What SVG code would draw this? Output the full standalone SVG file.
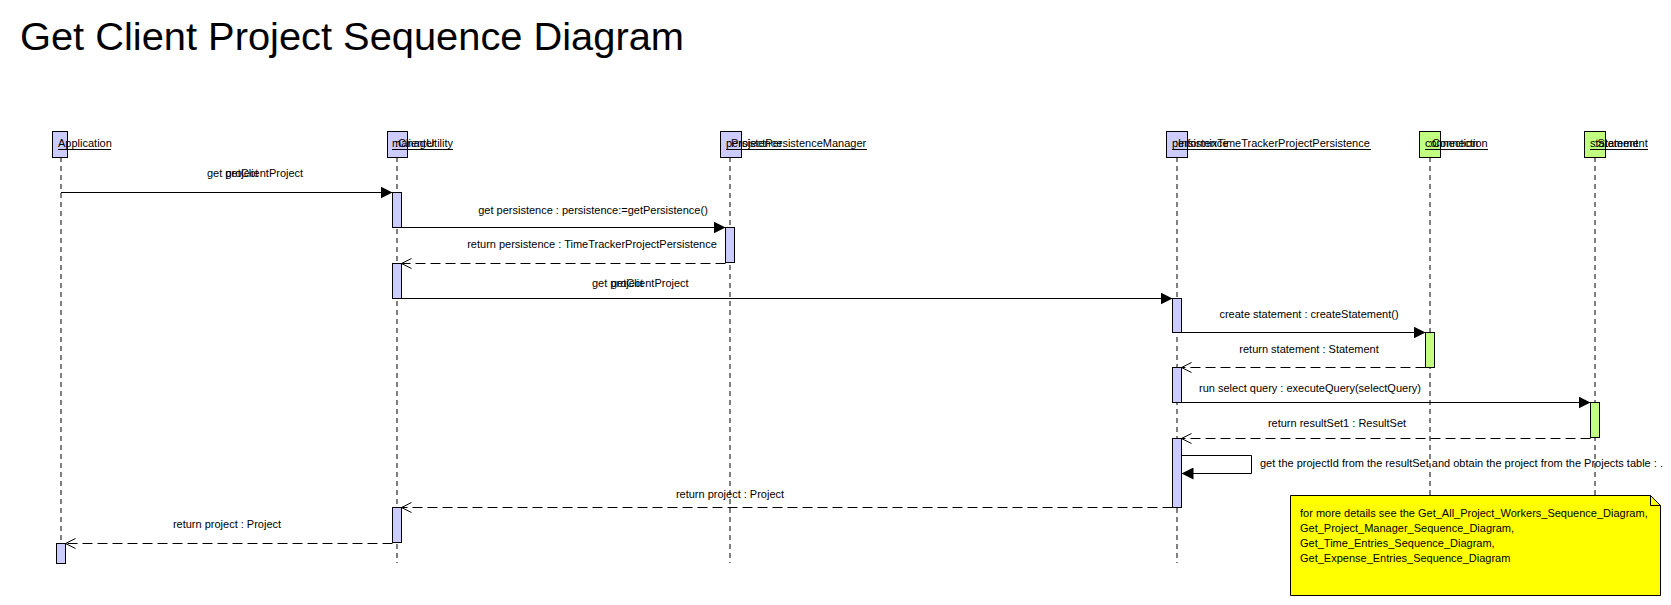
<svg xmlns="http://www.w3.org/2000/svg" width="1671" height="605" viewBox="0 0 1671 605">
<style>
text{font-family:"Liberation Sans",Arial,sans-serif;font-size:11px;fill:#000}
.title{font-size:38px}
.hdr{stroke:#000;stroke-width:1}
.blue{fill:#CCCCFF}
.green{fill:#C0FF80}
.life{stroke:#000;stroke-width:1;stroke-dasharray:5,4;fill:none}
.ul{stroke:#000;stroke-width:1}
.act{stroke:#000;stroke-width:1}
.msg{stroke:#000;stroke-width:1;fill:none;marker-end:url(#filled)}
.ret{stroke:#000;stroke-width:1;fill:none;stroke-dasharray:10,5;marker-end:url(#open)}
.mid{text-anchor:middle}
</style>
<defs>
<marker id="filled" markerWidth="12" markerHeight="12" refX="12" refY="6" orient="auto" markerUnits="userSpaceOnUse">
<path d="M0,0 L12,6 L0,12 z" fill="#000"/>
</marker>
<marker id="open" markerWidth="12" markerHeight="12" refX="11" refY="6" orient="auto" markerUnits="userSpaceOnUse">
<path d="M1,1 L11,6 L1,11" fill="none" stroke="#000" stroke-width="1"/>
</marker>
</defs>
<rect width="1671" height="605" fill="#fff"/>
<text class="title" x="20" y="50" textLength="664" lengthAdjust="spacingAndGlyphs">Get Client Project Sequence Diagram</text>

<g id="application">
<line class="life" x1="61" y1="157" x2="61" y2="563"/>
<rect class="hdr blue" x="52.5" y="131.5" width="15" height="26"/>
<text x="58" y="147">Application</text>
<line class="ul" x1="58" y1="149.5" x2="111" y2="149.5"/>
<rect class="act blue" x="56.5" y="543.5" width="9" height="20"/>
</g>

<g id="clientutility">
<line class="life" x1="397" y1="157" x2="397" y2="563"/>
<rect class="hdr blue" x="387.5" y="131.5" width="20" height="26"/>
<text x="392" y="147">manager</text>
<text x="395" y="147">:ClientUtility</text>
<line class="ul" x1="392" y1="149.5" x2="453" y2="149.5"/>
<rect class="act blue" x="392.5" y="192.5" width="9" height="35"/>
<rect class="act blue" x="392.5" y="263.5" width="9" height="35"/>
<rect class="act blue" x="392.5" y="507.5" width="9" height="35"/>
</g>

<g id="persistencemanager">
<line class="life" x1="730" y1="157" x2="730" y2="563"/>
<rect class="hdr blue" x="720.5" y="131.5" width="21" height="26"/>
<text x="726" y="147">persistence</text>
<text x="728" y="147">:ProjectPersistenceManager</text>
<line class="ul" x1="726" y1="149.5" x2="867" y2="149.5"/>
<rect class="act blue" x="725.5" y="227.5" width="9" height="35"/>
</g>

<g id="persistence">
<line class="life" x1="1177" y1="157" x2="1177" y2="563"/>
<rect class="hdr blue" x="1166.5" y="131.5" width="21" height="26"/>
<text x="1172" y="147">persistence</text>
<text x="1175" y="147">:InformixTimeTrackerProjectPersistence</text>
<line class="ul" x1="1172" y1="149.5" x2="1371" y2="149.5"/>
<rect class="act blue" x="1172.5" y="298.5" width="9" height="34"/>
<rect class="act blue" x="1172.5" y="367.5" width="9" height="35"/>
<rect class="act blue" x="1172.5" y="438.5" width="9" height="69"/>
</g>

<g id="connection">
<line class="life" x1="1430" y1="157" x2="1430" y2="563"/>
<rect class="hdr green" x="1419.5" y="131.5" width="21" height="26"/>
<text x="1425" y="147">connection</text>
<text x="1429" y="147">:Connection</text>
<line class="ul" x1="1425" y1="149.5" x2="1488" y2="149.5"/>
<rect class="act green" x="1425.5" y="332.5" width="9" height="35"/>
</g>

<g id="statement">
<line class="life" x1="1595" y1="157" x2="1595" y2="563"/>
<rect class="hdr green" x="1584.5" y="131.5" width="21" height="26"/>
<text x="1590" y="147">statement</text>
<text x="1594.5" y="147">:Statement</text>
<line class="ul" x1="1590" y1="149.5" x2="1648" y2="149.5"/>
<rect class="act green" x="1590.5" y="402.5" width="9" height="35"/>
</g>

<g id="connectors">
<line class="msg" x1="61" y1="192.5" x2="392.5" y2="192.5"/>
<text x="207" y="177">get project</text>
<text x="225.5" y="177">getClientProject</text>

<line class="msg" x1="401.5" y1="227.5" x2="725.5" y2="227.5"/>
<text class="mid" x="593" y="214">get persistence : persistence:=getPersistence()</text>

<line class="ret" x1="725.5" y1="263.5" x2="401.5" y2="263.5"/>
<text class="mid" x="592" y="248">return persistence : TimeTrackerProjectPersistence</text>

<line class="msg" x1="401.5" y1="298.5" x2="1172.5" y2="298.5"/>
<text x="592" y="287">get project</text>
<text x="611" y="287">getClientProject</text>

<line class="msg" x1="1181.5" y1="332.5" x2="1425.5" y2="332.5"/>
<text class="mid" x="1309" y="318">create statement : createStatement()</text>

<line class="ret" x1="1425.5" y1="367.5" x2="1181.5" y2="367.5"/>
<text class="mid" x="1309" y="353">return statement : Statement</text>

<line class="msg" x1="1181.5" y1="402.5" x2="1590.5" y2="402.5"/>
<text class="mid" x="1310" y="392">run select query : executeQuery(selectQuery)</text>

<line class="ret" x1="1590.5" y1="438.5" x2="1181.5" y2="438.5"/>
<text class="mid" x="1337" y="427">return resultSet1 : ResultSet</text>

<path class="msg" d="M1181.5,455.5 H1251.5 V473.5 H1181.5"/>
<text x="1260" y="467">get the projectId from the resultSet and obtain the project from the Projects table : .</text>

<line class="ret" x1="1172.5" y1="507.5" x2="401.5" y2="507.5"/>
<text class="mid" x="730" y="498">return project : Project</text>

<line class="ret" x1="392.5" y1="543.5" x2="65.5" y2="543.5"/>
<text class="mid" x="227" y="528">return project : Project</text>
</g>

<g id="note">
<polygon points="1290.5,495.5 1650.5,495.5 1660.5,505.5 1660.5,595.5 1290.5,595.5" fill="#FFFF00" stroke="#000" stroke-width="1"/>
<polyline points="1650.5,495.5 1650.5,505.5 1660.5,505.5" fill="none" stroke="#000" stroke-width="1"/>
<text x="1300" y="517">for more details see the Get_All_Project_Workers_Sequence_Diagram,</text>
<text x="1300" y="532">Get_Project_Manager_Sequence_Diagram,</text>
<text x="1300" y="547">Get_Time_Entries_Sequence_Diagram,</text>
<text x="1300" y="562">Get_Expense_Entries_Sequence_Diagram</text>
</g>
</svg>
